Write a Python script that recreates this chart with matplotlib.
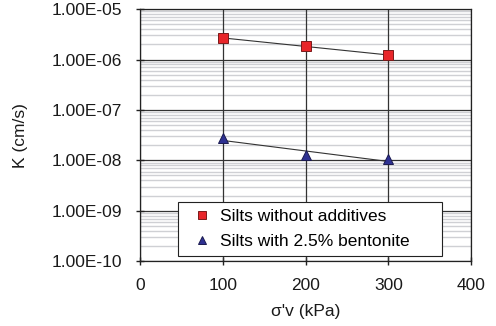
import numpy as np
from matplotlib import pyplot as plt
from matplotlib.ticker import LogLocator

plt.rcParams['font.family'] = ['Liberation Sans', 'DejaVu Sans']

# stress levels (kPa) and permeability (cm/s)
stress = [100, 200, 300]
k_silt = [2.66e-6, 1.85e-6, 1.22e-6]
k_bent = [2.75e-8, 1.25e-8, 1.05e-8]

x_ticks = [0, 100, 200, 300, 400]
y_ticks = [1e-10, 1e-9, 1e-8, 1e-7, 1e-6, 1e-5]
y_labels = ['1.00E-10', '1.00E-09', '1.00E-08', '1.00E-07', '1.00E-06', '1.00E-05']

fig = plt.figure(figsize=(4.96, 3.26), dpi=100)
ax = fig.add_axes([0.282, 0.199, 0.668, 0.773])

ax.set_yscale('log')
ax.set_xlim(0, 400)
ax.set_ylim(1e-10, 1e-5)

# grid
ax.yaxis.set_minor_locator(LogLocator(base=10, subs=np.arange(2, 10)))
ax.grid(True, which='minor', axis='y', color='#cfd0d4', lw=1.0)
ax.grid(True, which='major', axis='y', color='#333333', lw=0.9)
for xv in x_ticks:
    ax.axvline(xv, color='#333333', lw=0.9, zorder=2)

# exponential trendlines fitted to the points
xs = np.array(stress, dtype=float)
for k in (k_silt, k_bent):
    c = np.polyfit(xs, np.log10(k), 1)
    ax.plot(xs, 10 ** np.polyval(c, xs), color='#333333', lw=0.8, zorder=3)

ax.plot(stress, k_silt, ls='none', marker='s', ms=6.5, mfc='#e8262a',
        mec='#7a1a1a', mew=0.7, label='Silts without additives', zorder=4)
ax.plot(stress, k_bent, ls='none', marker='^', ms=7.5, mfc='#2e3192',
        mec='#1a1a50', mew=0.7, label='Silts with 2.5% bentonite', zorder=4)

ax.set_xticks(x_ticks)
ax.set_yticks(y_ticks)
ax.set_yticklabels(y_labels)
ax.tick_params(axis='y', which='minor', length=0)
ax.tick_params(axis='both', which='major', labelsize=12.5, color='#222222',
               labelcolor='#1a1a1a', direction='inout', length=6, width=1)
ax.tick_params(axis='x', pad=9)
ax.tick_params(axis='y', pad=10)

for s in ax.spines.values():
    s.set_color('#222222')
    s.set_linewidth(0.9)

ax.set_xlabel("σ'v (kPa)", fontsize=12.5, labelpad=8, color='#1a1a1a')
ax.set_ylabel('K (cm/s)', fontsize=12.5, labelpad=17, color='#1a1a1a')

leg = ax.legend(loc='lower left', bbox_to_anchor=(0.115, 0.02, 0.798, 0.2),
                mode='expand', borderaxespad=0, fontsize=12.5,
                frameon=True, fancybox=False, edgecolor='#222222', framealpha=1,
                handlelength=2.0, handletextpad=0.0, borderpad=0.4,
                labelspacing=0.55, markerscale=0.85)
leg.get_frame().set_linewidth(0.8)

fig.savefig('out.png', dpi=100)
